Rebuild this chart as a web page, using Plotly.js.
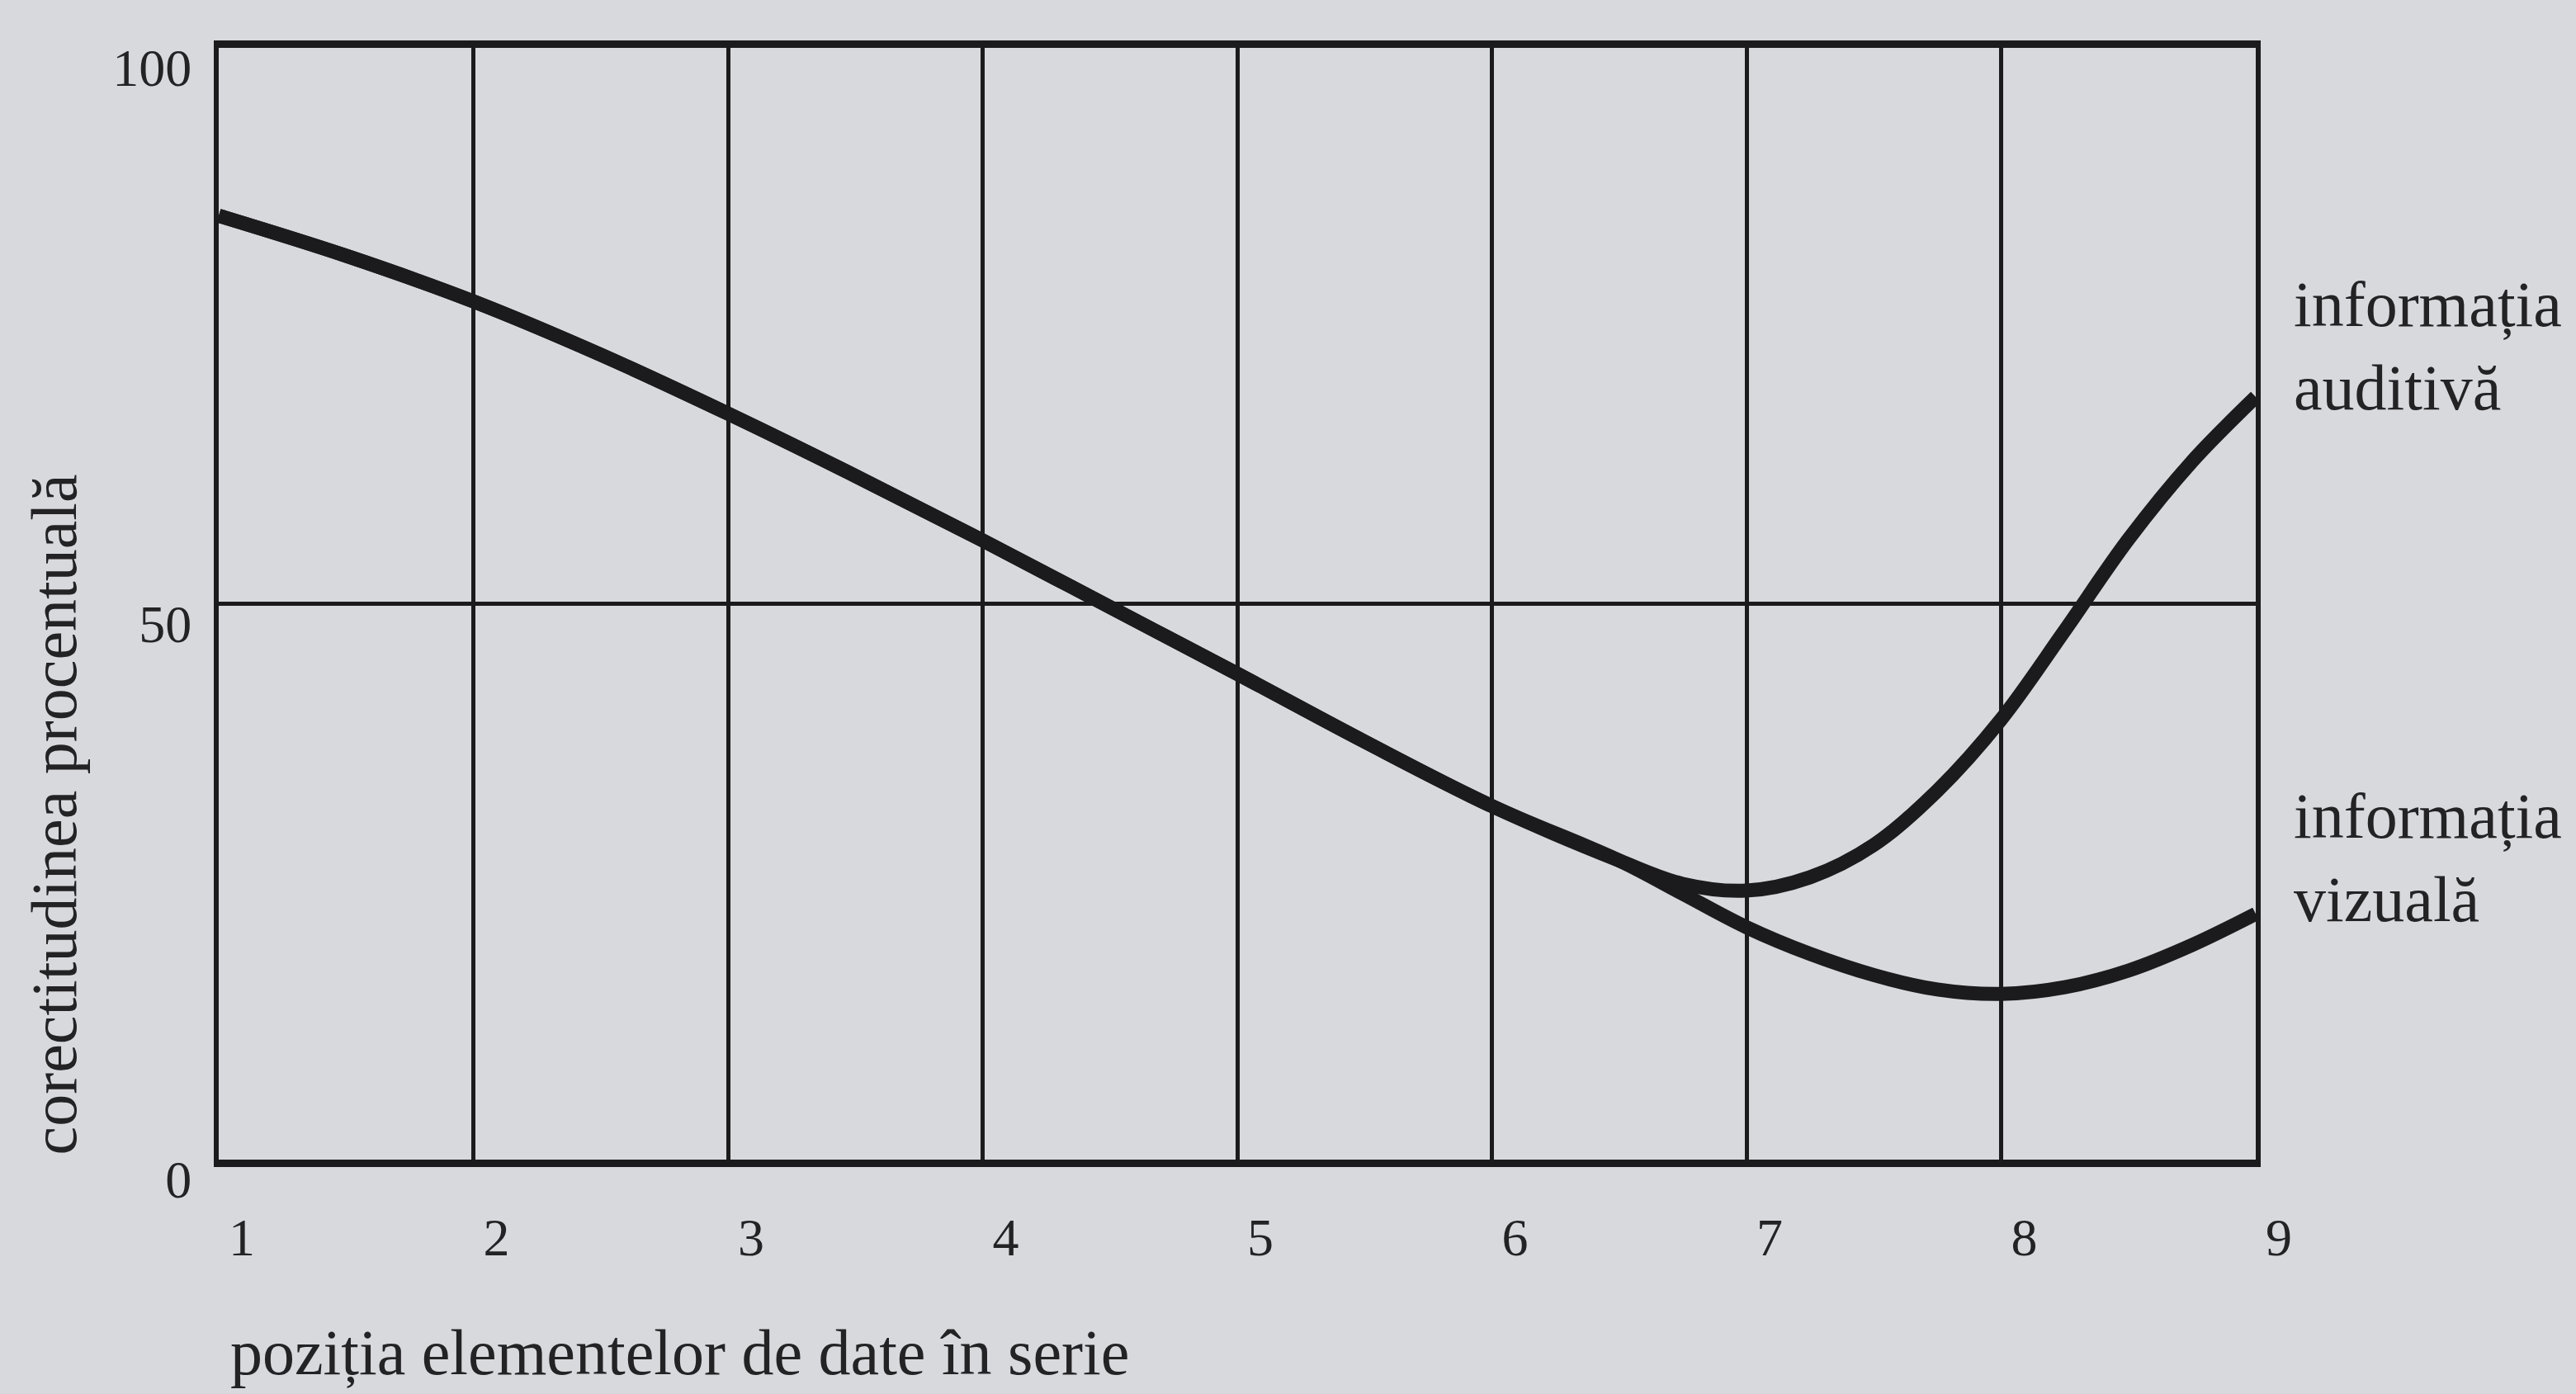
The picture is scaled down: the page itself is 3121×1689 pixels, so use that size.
<!DOCTYPE html>
<html>
<head>
<meta charset="utf-8">
<script src="https://cdn.plot.ly/plotly-3.0.1.min.js"></script>
<style>
  html, body { margin: 0; padding: 0; background: #d8d9dd; }
  #chart { width: 3121px; height: 1689px; }
</style>
</head>
<body>
<div id="chart"></div>
<script>
// Data
const positions_common = [1, 1.5, 2, 2.5, 3, 3.5, 4, 4.5, 5, 5.5, 6, 6.5];
const values_common    = [84.9, 81.3, 77.2, 72.4, 67.1, 61.5, 55.7, 49.7, 43.7, 37.6, 31.8, 26.9];

const positions_auditiva = [6.75, 7, 7.25, 7.5, 7.75, 8, 8.25, 8.5, 8.75, 9];
const values_auditiva    = [24.8, 24.2, 25.4, 28.3, 33.2, 39.6, 47.6, 55.8, 62.8, 68.6];

const positions_vizuala = [6.75, 7, 7.25, 7.5, 7.75, 8, 8.25, 8.5, 8.75, 9];
const values_vizuala    = [23.9, 20.9, 18.5, 16.6, 15.3, 14.9, 15.5, 17, 19.3, 22.1];

const xTickVals = [1, 2, 3, 4, 5, 6, 7, 8, 9];
const xTickText = ['1', '2', '3', '4', '5', '6', '7', '8', '9'];
const yTickVals = [0, 50, 100];
const yTickText = ['0', '50', '100'];

const label_auditiva = 'informația<br>auditivă';
const label_vizuala  = 'informația<br>vizuală';
const xTitle = 'poziția elementelor de date în serie';
const yTitle = 'corectitudinea procentuală';

const FONT = '"Liberation Serif", "DejaVu Serif", serif';
const INK = '#1b1b1d';
const TEXT = '#232325';
const PAPER = '#d8d9dd';

const lineStyle = { color: INK, width: 17, shape: 'spline', smoothing: 1 };

const traces = [
  {
    x: positions_common.concat(positions_auditiva),
    y: values_common.concat(values_auditiva),
    mode: 'lines',
    line: lineStyle,
    hoverinfo: 'skip',
    showlegend: false,
    cliponaxis: false
  },
  {
    x: positions_common.concat(positions_vizuala),
    y: values_common.concat(values_vizuala),
    mode: 'lines',
    line: lineStyle,
    hoverinfo: 'skip',
    showlegend: false,
    cliponaxis: false
  }
];

const layout = {
  width: 3121,
  height: 1689,
  paper_bgcolor: PAPER,
  plot_bgcolor: PAPER,
  margin: { l: 265, r: 388, t: 58, b: 284 },
  font: { family: FONT, color: TEXT, size: 64 },
  xaxis: {
    range: [1, 9],
    tickvals: xTickVals,
    ticktext: xTickText,
    showgrid: true,
    gridcolor: INK,
    gridwidth: 5,
    showline: true,
    linecolor: INK,
    linewidth: 9,
    mirror: true,
    zeroline: false,
    ticks: '',
    ticklabelstandoff: 30,
    ticklabelshift: 28,
    tickfont: { family: FONT, size: 64, color: TEXT },
    fixedrange: true
  },
  yaxis: {
    range: [0, 100],
    tickvals: yTickVals,
    ticktext: yTickText,
    showgrid: true,
    gridcolor: INK,
    gridwidth: 5,
    showline: true,
    linecolor: INK,
    linewidth: 6,
    mirror: true,
    zeroline: false,
    ticks: '',
    ticklabelstandoff: 14,
    ticklabelshift: 24,
    tickfont: { family: FONT, size: 64, color: TEXT },
    fixedrange: true
  },
  annotations: [
    {
      text: label_auditiva, xref: 'paper', yref: 'paper', x: 1, y: 0.732,
      xanchor: 'left', yanchor: 'middle', xshift: 44, align: 'left', showarrow: false,
      font: { family: FONT, size: 78, color: TEXT }
    },
    {
      text: label_vizuala, xref: 'paper', yref: 'paper', x: 1, y: 0.272,
      xanchor: 'left', yanchor: 'middle', xshift: 44, align: 'left', showarrow: false,
      font: { family: FONT, size: 78, color: TEXT }
    },
    {
      text: xTitle, xref: 'paper', yref: 'paper', x: 0, y: 0,
      xanchor: 'left', yanchor: 'middle', xshift: 12, yshift: -234, showarrow: false,
      font: { family: FONT, size: 78, color: TEXT }
    },
    {
      text: yTitle, xref: 'paper', yref: 'paper', x: 0, y: 0.31,
      xanchor: 'center', yanchor: 'middle', xshift: -200, textangle: -90, showarrow: false,
      font: { family: FONT, size: 78, color: TEXT }
    }
  ]
};

Plotly.newPlot('chart', traces, layout, { staticPlot: true, displayModeBar: false });
</script>
</body>
</html>
